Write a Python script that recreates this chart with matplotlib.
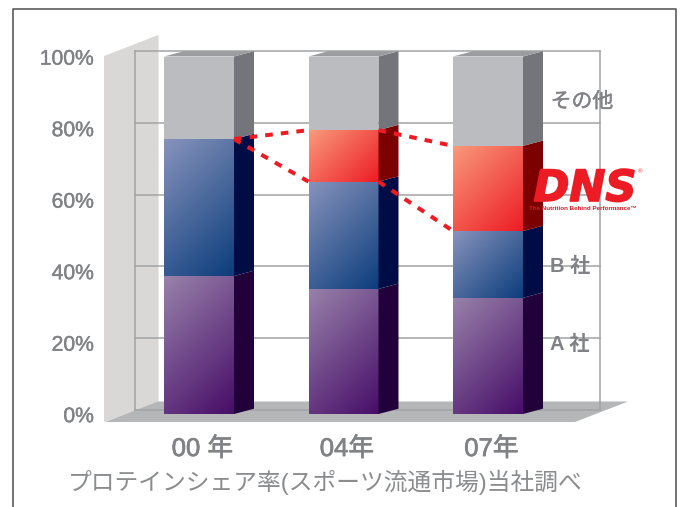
import numpy as np
import matplotlib
matplotlib.use("Agg")
import matplotlib.pyplot as plt
import matplotlib.patheffects as pe

plt.rcParams['font.family'] = ['Liberation Sans', 'Noto Sans CJK JP']

# ---------- Data ----------
years = ["00 年", "04年", "07年"]
share_a = [38.6, 35.0, 32.5]
share_b = [38.3, 30.0, 18.7]
share_dns = [0.0, 14.4, 23.8]
share_other = [23.1, 20.6, 25.0]
percent_ticks = [0, 20, 40, 60, 80, 100]

# ---------- Scale: one category = 144.5 px, 1% = 3.575 px ----------
W, H = 682, 507
X_UNIT = 144.5
Y_UNIT = 3.575
BAR_W = 70 / X_UNIT
DEPTH_X = 20 / X_UNIT
DEPTH_Y = 5.3 / Y_UNIT


def px_x(p):
    return (p - 164) / X_UNIT


def px_y(p):
    return (414 - p) / Y_UNIT


fig = plt.figure(figsize=(W / 100, H / 100), dpi=100)
ax = fig.add_axes([0, 0, 1, 1])
ax.set_axis_off()

GREY = "#808285"
FACES = {
    "a": ("#9882aa", "#470d68", "#22003a"),
    "b": ("#8793bc", "#0c3d7c", "#000c45"),
    "dns": ("#f99a7c", "#ed1c24", "#7d0000"),
}


def heavy(width, color=GREY):
    return [pe.withStroke(linewidth=width, foreground=color)]


def gradient_face(x0, x1, y0, y1, c0, c1):
    c0 = np.array(matplotlib.colors.to_rgb(c0))
    c1 = np.array(matplotlib.colors.to_rgb(c1))
    u, v = np.meshgrid(np.linspace(0, 1, 80), np.linspace(0, 1, 80))
    # diagonal at 45 degrees on screen, whatever the height of the segment
    w_px = (x1 - x0) * X_UNIT
    h_px = (y1 - y0) * Y_UNIT
    t = ((u * w_px + v * h_px) / (w_px + h_px))[..., None]
    ax.imshow(c0 * (1 - t) + c1 * t, extent=(x0, x1, y0, y1), aspect='auto',
              interpolation='bilinear', zorder=4)


# ---------- Frame ----------
ax.plot([px_x(13), px_x(13), px_x(676), px_x(676)],
        [px_y(507), px_y(9), px_y(9), px_y(507)],
        color="#5e5a5b", lw=1.2, zorder=1)

# ---------- Wall and floor ----------
ax.fill([px_x(104), px_x(158.5), px_x(158.5), px_x(104)],
        [px_y(56), px_y(35), px_y(402), px_y(422)],
        color="#d9d8d6", lw=0, zorder=1)
ax.fill([px_x(105), px_x(158), px_x(628), px_x(575)],
        [px_y(422), px_y(401.5), px_y(401.5), px_y(422)],
        color="#b5b6b7", lw=0, zorder=2)

# ---------- Back grid ----------
for v in percent_ticks:
    gy = px_y(410 - 3.59 * v)
    ax.plot([px_x(134.5), px_x(600)], [gy, gy], color="#a2a3a5", lw=1.1, zorder=3)
for gx in [134.5, 600]:
    ax.plot([px_x(gx), px_x(gx)], [px_y(410), px_y(51)], color="#a2a3a5", lw=1.1, zorder=3)

# ---------- Bars ----------
bottom_a = np.zeros(3)
bottom_b = bottom_a + np.array(share_a)
bottom_dns = bottom_b + np.array(share_b)
bottom_other = bottom_dns + np.array(share_dns)
top_other = bottom_other + np.array(share_other)

for i in range(len(years)):
    x0 = i
    x1 = i + BAR_W
    segments = [
        ("a", bottom_a[i], bottom_b[i]),
        ("b", bottom_b[i], bottom_dns[i]),
        ("dns", bottom_dns[i], bottom_other[i]),
    ]
    for key, y0, y1 in segments:
        if y1 <= y0:
            continue
        gradient_face(x0, x1, y0, y1, FACES[key][0], FACES[key][1])
        ax.fill([x1, x1 + DEPTH_X, x1 + DEPTH_X, x1],
                [y0, y0 + DEPTH_Y, y1 + DEPTH_Y, y1],
                color=FACES[key][2], lw=0, zorder=4)

    y0, y1 = bottom_other[i], top_other[i]
    ax.fill([x0, x1, x1, x0], [y0, y0, y1, y1], color="#bbbcbf", lw=0, zorder=4)
    ax.fill([x1, x1 + DEPTH_X, x1 + DEPTH_X, x1],
            [y0, y0 + DEPTH_Y, y1 + DEPTH_Y, y1],
            color="#74757a", lw=0, zorder=4)
    ax.fill([x0, x1, x1 + DEPTH_X, x0 + DEPTH_X],
            [y1, y1, y1 + DEPTH_Y, y1 + DEPTH_Y],
            color="#9b9c9f", lw=0, zorder=4)

# ---------- Dashed share lines ----------
for i in range(len(years) - 1):
    for edge in (bottom_other, bottom_dns):
        ax.plot([i + BAR_W, i + 1], [edge[i], edge[i + 1]], color="#ed1c24",
                lw=2.9, dashes=(1.9, 2.0), zorder=6)

# ---------- Text ----------
for v in percent_ticks:
    ax.text(px_x(94), v - 0.75, f"{v}%", ha='right', va='center', fontsize=15.2,
            color=GREY, zorder=7, path_effects=heavy(0.3))

for i, year in enumerate(years):
    ax.text(i + BAR_W / 2 + 3.5 / X_UNIT, px_y(449), year, ha='center', va='center',
            fontsize=18.5, color=GREY, zorder=7, path_effects=heavy(0.5))

ax.text(px_x(325), px_y(482.5), "プロテインシェア率(スポーツ流通市場)当社調べ", ha='center',
        va='center', fontsize=17.1, color="#8a8c8e", zorder=7)

ax.text(px_x(582), px_y(102), "その他", ha='center', va='center', fontsize=15,
        color=GREY, zorder=7, path_effects=heavy(0.3))
ax.text(px_x(570), px_y(266), "B 社", ha='center', va='center', fontsize=14.5,
        color=GREY, fontweight='bold', zorder=7)
ax.text(px_x(570), px_y(344.5), "A 社", ha='center', va='center', fontsize=14.5,
        color=GREY, fontweight='bold', zorder=7)

# ---------- DNS logo ----------
ax.text(px_x(585), px_y(189), "DNS", ha='center', va='center', fontsize=31,
        family='DejaVu Sans', fontweight='bold', style='oblique', color="#ed1c24", zorder=8,
        path_effects=heavy(1.2, "#ed1c24"))
ax.text(px_x(583), px_y(208), "The Nutrition Behind Performance™", ha='center', va='center',
        fontsize=4.5, fontweight='bold', color="#d01c24", zorder=8)
ax.text(px_x(640), px_y(172), "®", ha='center', va='center', fontsize=4.5,
        color="#ed1c24", zorder=8)

ax.set_xlim(px_x(0), px_x(W))
ax.set_ylim(px_y(H), px_y(0))

fig.savefig("out.png", dpi=100)
